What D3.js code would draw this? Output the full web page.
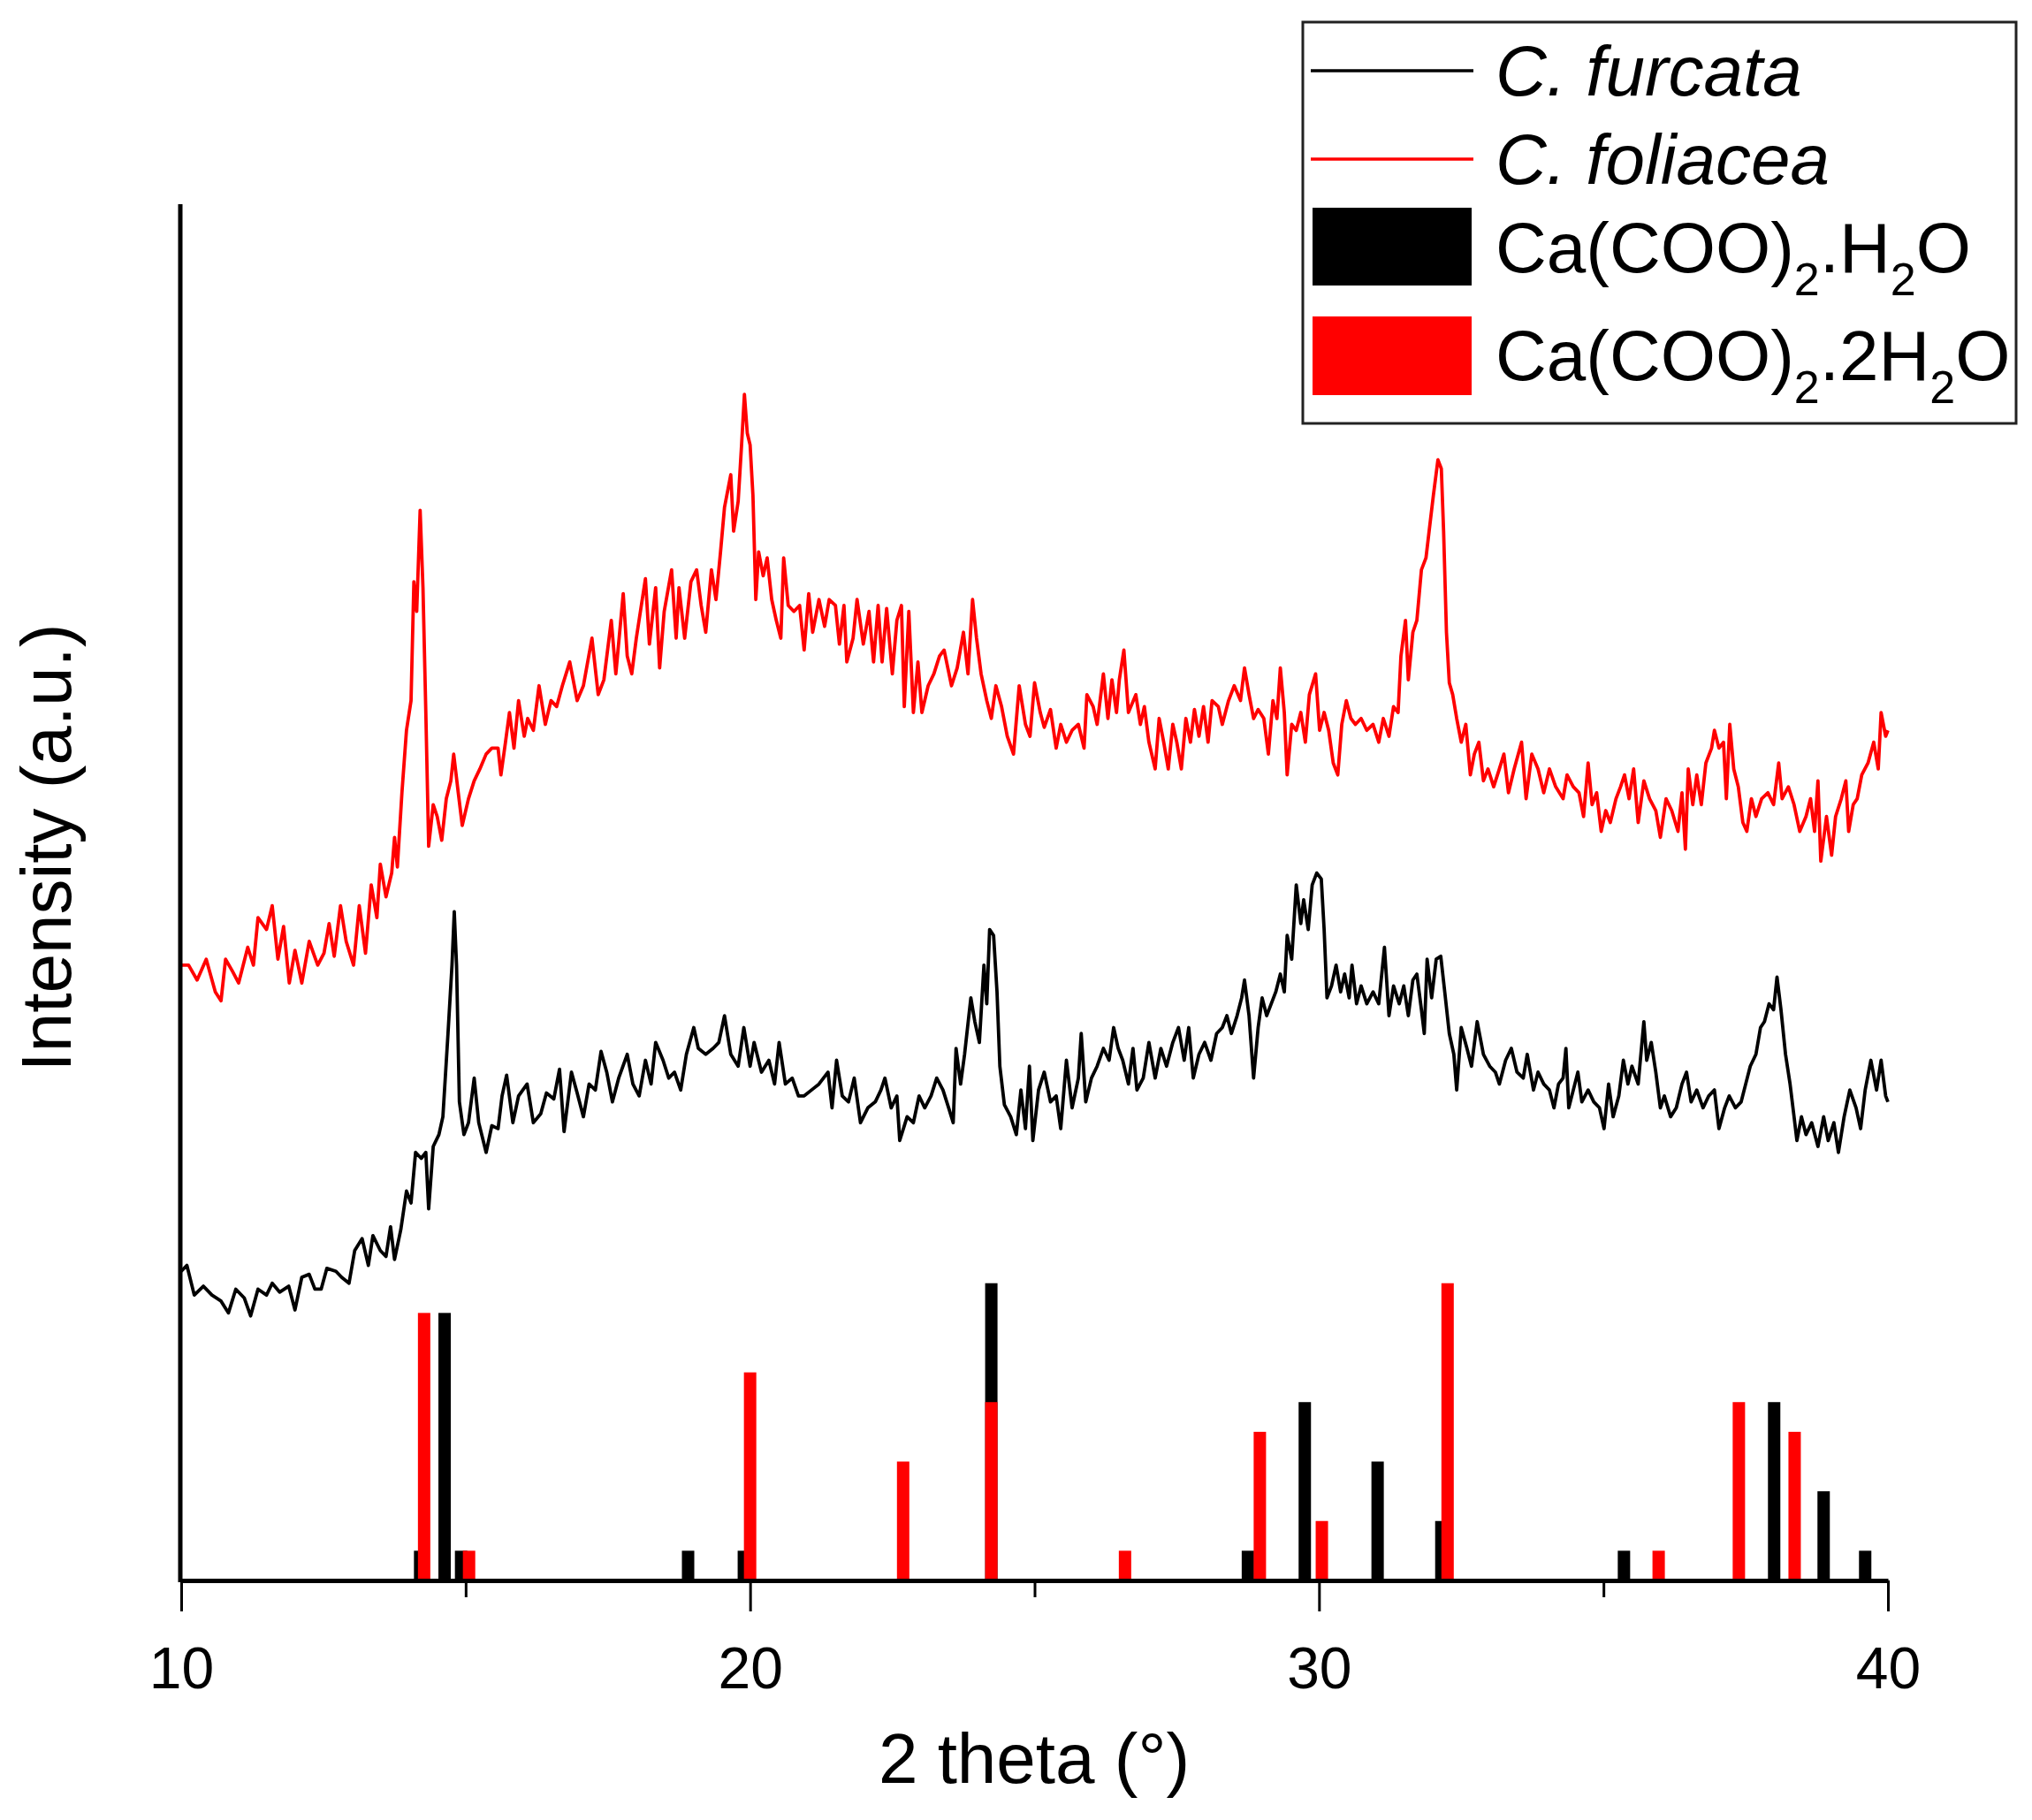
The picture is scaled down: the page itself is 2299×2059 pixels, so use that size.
<!DOCTYPE html>
<html lang="en">
<head>
    <meta charset="UTF-8">
    <title>XRD patterns with calcium oxalate references</title>
    <script src="https://cdn.jsdelivr.net/npm/d3@7"></script>
    <style>
        body { margin: 0; background: #fff; }
        text { font-family: "Liberation Sans", Arial, sans-serif; fill: #000; }
        .trace { fill: none; stroke-width: 3.8px; stroke-linejoin: round; }
        .axis path, .axis line { stroke: #000; }
    </style>
</head>
<body>
    <script>
        // C. foliacea pattern (red), [2 theta, intensity]
        const foliacea = [
            [10.0,207],[10.13,207],[10.28,202],[10.44,209],[10.6,198],[10.7,195],[10.78,209],[10.9,205],
            [11.01,201],[11.17,213],[11.27,207],[11.35,223],[11.5,219],[11.6,227],[11.7,209],[11.8,220],
            [11.9,201],[12.0,212],[12.12,201],[12.25,215],[12.4,207],[12.51,211],[12.6,221],[12.69,210],
            [12.8,227],[12.9,215],[13.03,207],[13.13,227],[13.24,211],[13.34,234],[13.44,223],[13.5,241],
            [13.6,230],[13.7,238],[13.75,250],[13.8,240],[13.88,265],[13.96,286],[14.04,296],[14.09,336],
            [14.14,326],[14.2,360],[14.25,334],[14.3,292],[14.35,247],[14.43,261],[14.5,257],[14.58,249],
            [14.66,263],[14.74,269],[14.79,278],[14.87,265],[14.94,254],[15.05,263],[15.15,269],[15.25,273],
            [15.36,278],[15.46,280],[15.57,280],[15.62,271],[15.7,282],[15.77,292],[15.85,280],[15.93,296],
            [16.03,284],[16.09,290],[16.19,286],[16.29,301],[16.4,288],[16.5,296],[16.6,294],[16.7,301],
            [16.83,309],[16.96,296],[17.07,301],[17.22,317],[17.33,298],[17.43,303],[17.56,323],[17.64,305],
            [17.77,332],[17.84,311],[17.92,305],[18.0,317],[18.16,337],[18.23,315],[18.34,334],[18.41,307],
            [18.49,326],[18.62,340],[18.7,317],[18.75,334],[18.85,317],[18.96,336],[19.06,340],[19.14,328],
            [19.22,319],[19.32,340],[19.4,330],[19.48,346],[19.55,361],[19.66,372],[19.71,353],[19.79,363],
            [19.85,382],[19.9,399],[19.95,386],[20.0,382],[20.05,365],[20.1,330],[20.15,346],[20.23,338],
            [20.3,344],[20.38,330],[20.46,323],[20.54,317],[20.59,344],[20.67,328],[20.77,326],[20.87,328],
            [20.95,313],[21.03,332],[21.1,319],[21.21,330],[21.31,321],[21.39,330],[21.5,328],[21.57,315],
            [21.65,328],[21.7,309],[21.81,317],[21.88,330],[21.99,315],[22.09,326],[22.17,309],[22.25,328],
            [22.32,309],[22.4,327],[22.5,305],[22.58,323],[22.66,328],[22.71,294],[22.79,326],[22.87,292],
            [22.95,309],[23.02,292],[23.13,301],[23.23,305],[23.33,311],[23.41,313],[23.54,301],[23.64,307],
            [23.75,319],[23.83,305],[23.91,330],[23.98,317],[24.06,305],[24.16,296],[24.24,290],[24.32,301],
            [24.42,294],[24.52,284],[24.63,278],[24.73,301],[24.84,288],[24.92,284],[25.0,302],[25.1,292],
            [25.17,287],[25.28,293],[25.38,280],[25.46,288],[25.56,282],[25.66,286],[25.77,288],[25.87,280],
            [25.92,298],[26.03,294],[26.1,288],[26.21,305],[26.29,290],[26.36,303],[26.44,292],[26.49,303],
            [26.57,313],[26.65,292],[26.78,298],[26.86,288],[26.93,294],[27.01,282],[27.12,273],[27.19,290],
            [27.27,282],[27.35,273],[27.43,288],[27.5,282],[27.58,273],[27.66,290],[27.74,282],[27.81,293],
            [27.89,284],[27.97,294],[28.05,282],[28.12,296],[28.23,294],[28.3,288],[28.41,296],[28.51,301],
            [28.62,296],[28.69,307],[28.77,298],[28.85,290],[28.93,293],[29.03,290],[29.11,278],[29.19,296],
            [29.26,290],[29.32,307],[29.39,292],[29.44,271],[29.52,288],[29.6,286],[29.68,292],[29.76,282],
            [29.83,298],[29.94,305],[30.01,286],[30.09,292],[30.17,286],[30.25,275],[30.33,271],[30.4,288],
            [30.48,296],[30.56,290],[30.64,288],[30.74,290],[30.84,286],[30.95,288],[31.05,282],[31.13,290],
            [31.23,284],[31.31,294],[31.39,292],[31.44,311],[31.52,323],[31.57,303],[31.65,319],[31.72,323],
            [31.8,340],[31.88,344],[31.96,357],[32.01,365],[32.09,377],[32.15,374],[32.19,353],[32.24,319],
            [32.29,302],[32.35,298],[32.42,290],[32.5,282],[32.58,288],[32.66,271],[32.73,278],[32.81,282],
            [32.89,269],[32.97,273],[33.07,267],[33.17,273],[33.25,278],[33.33,265],[33.43,273],[33.56,282],
            [33.64,263],[33.74,278],[33.85,273],[33.95,265],[34.05,273],[34.16,267],[34.29,263],[34.36,271],
            [34.47,267],[34.57,265],[34.65,257],[34.73,275],[34.8,261],[34.88,265],[34.96,252],[35.04,259],
            [35.12,255],[35.22,263],[35.3,267],[35.37,271],[35.45,263],[35.53,273],[35.61,255],[35.71,269],
            [35.81,263],[35.92,259],[36.0,250],[36.1,263],[36.2,259],[36.31,252],[36.38,265],[36.44,246],
            [36.49,273],[36.57,261],[36.64,271],[36.72,261],[36.8,275],[36.9,280],[36.95,286],[37.03,280],
            [37.11,282],[37.16,263],[37.22,288],[37.29,273],[37.37,267],[37.45,255],[37.52,252],[37.6,263],
            [37.68,257],[37.78,263],[37.89,265],[37.99,261],[38.08,275],[38.14,263],[38.25,267],[38.35,261],
            [38.45,252],[38.56,257],[38.64,263],[38.71,252],[38.77,269],[38.82,242],[38.92,257],[39.01,244],
            [39.08,257],[39.18,263],[39.26,269],[39.31,252],[39.39,261],[39.46,263],[39.54,271],[39.65,275],
            [39.75,282],[39.83,273],[39.88,292],[39.96,284],[40.0,286]
        ];

        // C. furcata pattern (black), [2 theta, intensity]
        const furcata = [
            [10.0,104],[10.1,106],[10.23,96],[10.39,99],[10.54,96],[10.7,94],[10.83,90],[10.96,98],
            [11.11,95],[11.22,89],[11.35,98],[11.5,96],[11.6,100],[11.73,97],[11.89,99],[12.0,91],
            [12.12,102],[12.25,103],[12.35,98],[12.46,98],[12.56,105],[12.72,104],[12.82,102],[12.95,100],
            [13.05,111],[13.18,115],[13.29,106],[13.37,116],[13.5,111],[13.6,109],[13.68,119],[13.75,108],
            [13.86,118],[13.96,131],[14.04,127],[14.12,144],[14.22,142],[14.3,144],[14.35,125],[14.43,146],
            [14.53,150],[14.6,156],[14.69,184],[14.76,207],[14.8,225],[14.84,207],[14.89,161],[14.97,150],
            [15.05,154],[15.15,169],[15.23,154],[15.36,144],[15.46,153],[15.57,152],[15.64,163],[15.72,170],
            [15.83,154],[15.93,163],[16.08,167],[16.19,154],[16.32,157],[16.42,164],[16.55,162],[16.65,172],
            [16.73,151],[16.86,171],[16.96,164],[17.07,156],[17.17,167],[17.28,165],[17.38,178],[17.48,171],
            [17.58,161],[17.69,169],[17.84,177],[17.94,167],[18.05,163],[18.16,175],[18.26,167],[18.34,181],
            [18.47,175],[18.57,169],[18.67,171],[18.78,165],[18.88,177],[19.01,186],[19.09,179],[19.22,177],
            [19.35,179],[19.45,181],[19.55,190],[19.66,177],[19.79,173],[19.89,186],[20.0,173],[20.07,181],
            [20.2,171],[20.33,175],[20.43,167],[20.51,181],[20.62,167],[20.74,169],[20.85,163],[20.95,163],
            [21.08,165],[21.21,167],[21.37,171],[21.44,159],[21.52,175],[21.62,163],[21.73,161],[21.83,169],
            [21.94,154],[22.07,159],[22.2,161],[22.3,165],[22.37,169],[22.48,159],[22.58,163],[22.63,148],
            [22.76,156],[22.87,154],[22.97,163],[23.07,159],[23.18,163],[23.28,169],[23.39,165],[23.49,159],
            [23.57,154],[23.62,179],[23.7,167],[23.77,177],[23.88,196],[23.95,188],[24.03,181],[24.11,207],
            [24.16,194],[24.21,219],[24.28,217],[24.34,198],[24.39,173],[24.47,160],[24.58,156],[24.68,150],
            [24.76,165],[24.84,152],[24.91,173],[24.97,148],[25.07,165],[25.17,171],[25.28,161],[25.38,163],
            [25.46,152],[25.56,175],[25.66,159],[25.77,169],[25.82,184],[25.9,161],[26.0,169],[26.1,173],
            [26.21,179],[26.31,175],[26.39,186],[26.47,179],[26.55,175],[26.65,167],[26.73,179],[26.8,165],
            [26.91,169],[27.01,181],[27.12,169],[27.22,179],[27.32,173],[27.43,181],[27.53,186],[27.63,175],
            [27.71,186],[27.79,169],[27.89,177],[27.99,181],[28.1,175],[28.2,184],[28.3,186],[28.38,190],
            [28.46,184],[28.56,190],[28.64,196],[28.69,202],[28.77,190],[28.85,169],[28.93,186],[29.0,196],
            [29.08,190],[29.16,194],[29.24,198],[29.32,204],[29.39,198],[29.44,217],[29.52,209],[29.6,234],
            [29.68,221],[29.73,229],[29.81,219],[29.88,234],[29.96,238],[30.04,236],[30.09,219],[30.14,196],
            [30.22,200],[30.3,207],[30.38,198],[30.45,204],[30.53,196],[30.58,207],[30.66,194],[30.74,200],
            [30.84,194],[30.95,198],[31.05,194],[31.15,213],[31.23,190],[31.31,200],[31.41,194],[31.49,200],
            [31.57,190],[31.65,202],[31.72,204],[31.8,192],[31.85,184],[31.9,209],[31.98,196],[32.06,209],
            [32.14,210],[32.21,198],[32.29,184],[32.37,177],[32.42,165],[32.5,186],[32.6,179],[32.68,173],
            [32.78,188],[32.89,177],[33.0,173],[33.1,171],[33.17,167],[33.28,175],[33.38,179],[33.48,171],
            [33.59,169],[33.66,177],[33.77,165],[33.85,171],[33.95,167],[34.05,165],[34.13,159],[34.21,167],
            [34.29,169],[34.34,179],[34.39,159],[34.47,165],[34.55,171],[34.62,161],[34.73,165],[34.83,161],
            [34.93,159],[35.01,152],[35.09,167],[35.17,156],[35.27,163],[35.35,175],[35.43,167],[35.5,173],
            [35.61,167],[35.71,188],[35.76,175],[35.84,181],[35.92,171],[36.0,159],[36.07,163],[36.18,156],
            [36.28,159],[36.38,167],[36.46,171],[36.54,161],[36.64,165],[36.75,159],[36.85,163],[36.95,165],
            [37.03,152],[37.13,159],[37.21,163],[37.32,159],[37.42,161],[37.5,167],[37.58,173],[37.68,177],
            [37.76,186],[37.83,188],[37.91,194],[37.99,192],[38.05,203],[38.12,192],[38.2,177],[38.28,167],
            [38.35,156],[38.4,148],[38.48,156],[38.56,150],[38.66,154],[38.77,146],[38.87,156],[38.95,148],
            [39.05,154],[39.13,144],[39.23,156],[39.33,165],[39.44,159],[39.52,152],[39.6,165],[39.7,175],
            [39.8,165],[39.88,175],[39.96,163],[40.0,161]
        ];

        // reference sticks: Ca(COO)2.H2O (black) and Ca(COO)2.2H2O (red), [2 theta, rel. intensity]
        const monohydrate = [
            [14.2,10],[14.63,90],[14.92,10],[18.91,10],[19.89,10],[24.24,100],[28.75,10],
            [29.75,60],[31.03,40],[32.15,20],[35.36,10],[38.0,60],[38.87,30],[39.6,10]
        ];
        const dihydrate = [
            [14.27,90],[15.06,10],[20.0,70],[22.69,40],[24.24,60],[26.59,10],[28.96,50],
            [30.05,20],[32.26,100],[35.97,10],[37.38,60],[38.36,50]
        ];

        const majorTicks = [10, 20, 30, 40];
        const minorTicks = [15, 25, 35];

        const width = 2299;
        const height = 2059;
        const margin = { left: 205, right: 163, top: 231, bottom: 271 };

        const svg = d3.select("body").append("svg")
            .attr("width", width)
            .attr("height", height);

        const x = d3.scaleLinear()
            .domain([10, 40])
            .range([margin.left, width - margin.right]);

        const y = d3.scaleLinear()
            .domain([0, 463])
            .range([height - margin.bottom, margin.top]);

        const baseY = y(0);
        const stickW = 14;

        // reference sticks, black first so red sits on top
        svg.append("g")
            .selectAll("rect")
            .data(monohydrate)
            .join("rect")
            .attr("x", d => x(d[0]) - stickW / 2)
            .attr("y", d => y(d[1]))
            .attr("width", stickW)
            .attr("height", d => baseY - y(d[1]))
            .attr("fill", "#000");

        svg.append("g")
            .selectAll("rect")
            .data(dihydrate)
            .join("rect")
            .attr("x", d => x(d[0]) - stickW / 2)
            .attr("y", d => y(d[1]))
            .attr("width", stickW)
            .attr("height", d => baseY - y(d[1]))
            .attr("fill", "#ff0000");

        const line = d3.line()
            .x(d => x(d[0]))
            .y(d => y(d[1]));

        svg.append("path")
            .datum(furcata)
            .attr("class", "trace")
            .attr("stroke", "#000")
            .attr("d", line);

        svg.append("path")
            .datum(foliacea)
            .attr("class", "trace")
            .attr("stroke", "#ff0000")
            .attr("d", line);

        // x axis: labelled major ticks and short minor ticks
        const xAxis = svg.append("g")
            .attr("class", "axis")
            .attr("transform", `translate(0,${baseY})`)
            .call(d3.axisBottom(x).tickValues(majorTicks).tickSize(35).tickSizeOuter(0).tickPadding(40));
        xAxis.select(".domain").attr("stroke-width", 5);
        xAxis.selectAll(".tick line").attr("stroke-width", 3);
        xAxis.selectAll(".tick text")
            .attr("font-size", 66)
            .attr("font-family", "Liberation Sans, Arial, sans-serif");

        svg.append("g")
            .attr("class", "axis")
            .attr("transform", `translate(0,${baseY})`)
            .call(d3.axisBottom(x).tickValues(minorTicks).tickSize(19).tickFormat(""))
            .call(g => g.select(".domain").remove())
            .selectAll(".tick line").attr("stroke-width", 3);

        // y axis line only
        svg.append("line")
            .attr("x1", margin.left - 1).attr("x2", margin.left - 1)
            .attr("y1", margin.top).attr("y2", baseY + 2)
            .attr("stroke", "#000")
            .attr("stroke-width", 5);

        svg.append("text")
            .attr("x", 1170)
            .attr("y", 2017)
            .attr("text-anchor", "middle")
            .attr("font-size", 80)
            .text("2 theta (°)");

        svg.append("text")
            .attr("transform", "translate(80,959) rotate(-90)")
            .attr("text-anchor", "middle")
            .attr("font-size", 80)
            .text("Intensity (a.u.)");

        // legend
        const legend = svg.append("g");
        legend.append("rect")
            .attr("x", 1474).attr("y", 25)
            .attr("width", 807).attr("height", 454)
            .attr("fill", "#fff")
            .attr("stroke", "#222")
            .attr("stroke-width", 3);

        legend.append("line")
            .attr("x1", 1483).attr("x2", 1667).attr("y1", 80).attr("y2", 80)
            .attr("stroke", "#000").attr("stroke-width", 3.5);
        legend.append("line")
            .attr("x1", 1483).attr("x2", 1667).attr("y1", 180).attr("y2", 180)
            .attr("stroke", "#ff0000").attr("stroke-width", 3.5);
        legend.append("rect")
            .attr("x", 1485).attr("y", 235).attr("width", 180).attr("height", 88)
            .attr("fill", "#000");
        legend.append("rect")
            .attr("x", 1485).attr("y", 358).attr("width", 180).attr("height", 89)
            .attr("fill", "#ff0000");

        legend.append("text")
            .attr("x", 1692).attr("y", 108)
            .attr("font-size", 80)
            .attr("font-style", "italic")
            .text("C. furcata");
        legend.append("text")
            .attr("x", 1692).attr("y", 208)
            .attr("font-size", 80)
            .attr("font-style", "italic")
            .text("C. foliacea");

        function formula(yPos, parts) {
            const t = legend.append("text")
                .attr("x", 1692).attr("y", yPos)
                .attr("font-size", 80);
            parts.forEach(p => {
                t.append("tspan")
                    .attr("font-size", p.sub ? 52 : 80)
                    .attr("dy", p.sub ? 26 : (p.after ? -26 : 0))
                    .text(p.s);
            });
        }
        formula(308, [{ s: "Ca(COO)" }, { s: "2", sub: true }, { s: ".H", after: true }, { s: "2", sub: true }, { s: "O", after: true }]);
        formula(430, [{ s: "Ca(COO)" }, { s: "2", sub: true }, { s: ".2H", after: true }, { s: "2", sub: true }, { s: "O", after: true }]);
    </script>
</body>
</html>
